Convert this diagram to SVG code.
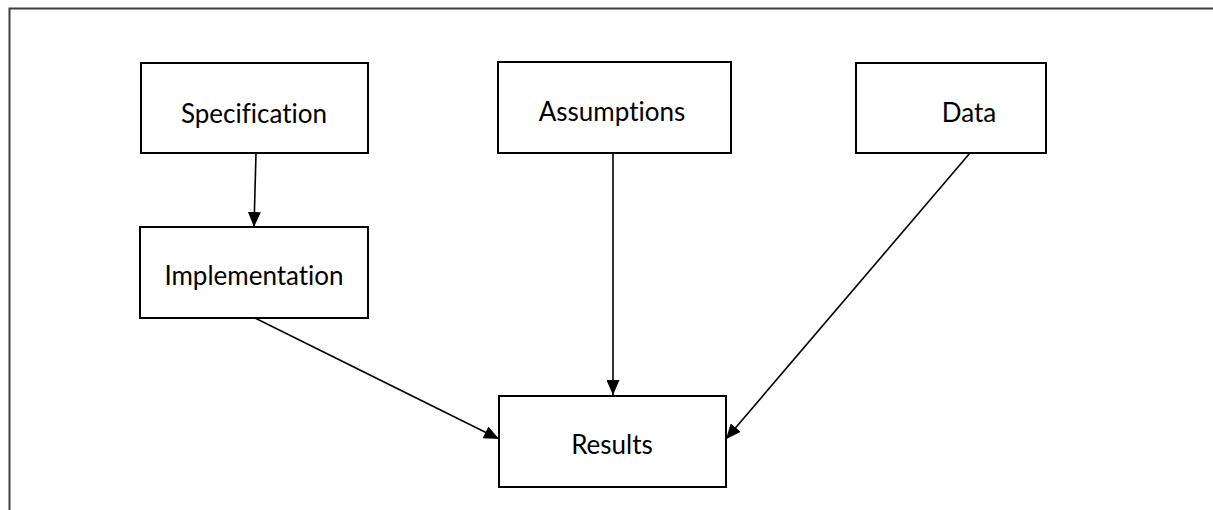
<svg xmlns="http://www.w3.org/2000/svg" width="1213" height="510" viewBox="0 0 1213 510">
<defs>
<style>
.box{fill:#fff;stroke:#000;stroke-width:2}
.lbl{font-family:Lato,"Noto Sans",sans-serif;font-size:26px;fill:#000;text-anchor:middle;font-variant-ligatures:none}
.con{stroke:#000;stroke-width:1.6;fill:none;marker-end:url(#ah)}
</style>
<marker id="ah" viewBox="0 0 15 13" refX="15" refY="6.5" markerWidth="15" markerHeight="13" markerUnits="userSpaceOnUse" orient="auto">
<path d="M0,0 L15,6.5 L0,13 Z" fill="#000"/>
</marker>
</defs>
<rect width="1213" height="510" fill="#fff"/>
<path d="M9.5,520 V8.5 H1220" fill="none" stroke="#404040" stroke-width="2"/>
<g id="specification"><rect class="box" x="141" y="63" width="227" height="90"/><text class="lbl" x="254" y="123">Specification</text></g>
<g id="implementation"><rect class="box" x="140" y="227" width="228" height="91"/><text class="lbl" x="254" y="285">Implementation</text></g>
<g id="assumptions"><rect class="box" x="498" y="62" width="233" height="91"/><text class="lbl" x="612" y="121">Assumptions</text></g>
<g id="data"><rect class="box" x="856" y="63" width="190" height="90"/><text class="lbl" x="969" y="122">Data</text></g>
<g id="results"><rect class="box" x="499" y="396" width="227" height="91"/><text class="lbl" x="612" y="454">Results</text></g>
<g id="connectors">
<line class="con" x1="256" y1="153" x2="254" y2="227"/>
<line class="con" x1="613" y1="153" x2="613" y2="395"/>
<line class="con" x1="255" y1="318" x2="499" y2="439"/>
<line class="con" x1="970" y1="153" x2="726" y2="439"/>
</g>
</svg>
